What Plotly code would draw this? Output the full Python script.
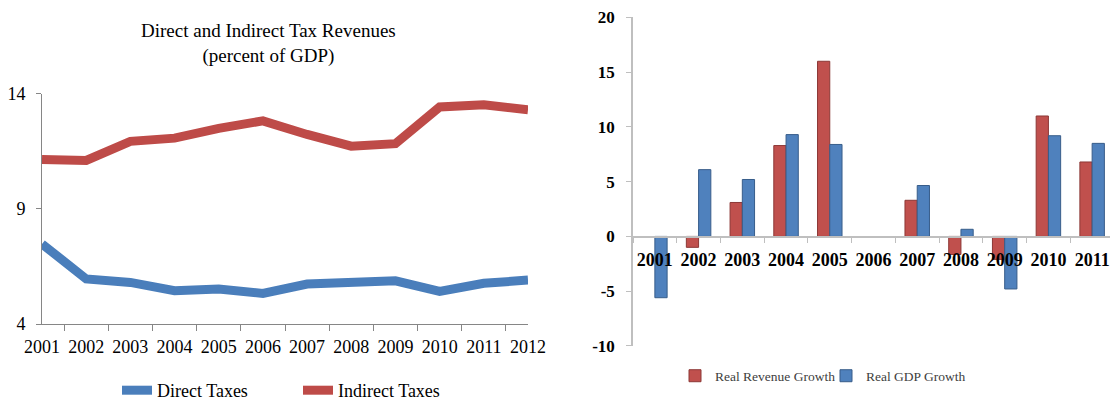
import plotly.graph_objects as go

years_left = ["2001", "2002", "2003", "2004", "2005", "2006", "2007", "2008", "2009", "2010", "2011", "2012"]
direct_taxes = [7.48, 5.96, 5.81, 5.45, 5.52, 5.33, 5.74, 5.81, 5.88, 5.42, 5.77, 5.91]
indirect_taxes = [11.14, 11.10, 11.93, 12.07, 12.49, 12.82, 12.23, 11.72, 11.83, 13.42, 13.52, 13.30]
left_ticks = [4, 9, 14]

years_right = ["2001", "2002", "2003", "2004", "2005", "2006", "2007", "2008", "2009", "2010", "2011"]
real_revenue_growth = [None, -1.0, 3.1, 8.3, 16.0, None, 3.3, -1.65, -2.1, 11.0, 6.8]
real_gdp_growth = [-5.6, 6.1, 5.2, 9.3, 8.4, None, 4.65, 0.65, -4.8, 9.2, 8.5]
right_tick_vals = [-10, -5, 0, 5, 10, 15, 20]
right_tick_text = ["-10", "-5", "0", "5", "10", "15", "20"]

OFF = 8
W, H = 1118 - OFF, 401
YS = 409 / 401
SERIF = "Liberation Serif, Times New Roman, serif"

def px_x(v):
    return (v - OFF) / W

def px_y(v):
    return 1 - (v * YS - OFF) / H

fig = go.Figure()

fig.add_trace(go.Scatter(
    x=years_left, y=direct_taxes, name="Direct Taxes", mode="lines",
    line=dict(color="#4a7ebb", width=9), xaxis="x", yaxis="y", legend="legend"))
fig.add_trace(go.Scatter(
    x=years_left, y=indirect_taxes, name="Indirect Taxes", mode="lines",
    line=dict(color="#be4b48", width=9), xaxis="x", yaxis="y", legend="legend"))

fig.add_trace(go.Bar(
    x=years_right, y=real_revenue_growth, name="Real Revenue Growth",
    marker=dict(color="#c0504d", line=dict(color="#8c3836", width=1)),
    xaxis="x2", yaxis="y2", legend="legend2"))
fig.add_trace(go.Bar(
    x=years_right, y=real_gdp_growth, name="Real GDP Growth",
    marker=dict(color="#4f81bd", line=dict(color="#385d8a", width=1)),
    xaxis="x2", yaxis="y2", legend="legend2"))

left_dom_x = [px_x(42), px_x(528)]
left_dom_y = [px_y(323.3), px_y(93.3)]
right_dom_x = [px_x(633), px_x(1114)]
right_dom_y = [px_y(345), px_y(17.3)]
zero_pos = px_y(236)

fig.update_layout(
    width=W, height=H,
    margin=dict(l=0, r=0, t=0, b=0),
    paper_bgcolor="white", plot_bgcolor="white",
    font=dict(family=SERIF, color="black"),
    barmode="group", bargap=0.44, bargroupgap=0,
    xaxis=dict(
        domain=left_dom_x, anchor="y", type="category", automargin=False,
        tickangle=0,
        showline=True, linecolor="#868686", linewidth=1,
        ticks="outside", tickson="boundaries", ticklen=6, tickcolor="#868686",
        tickfont=dict(size=18, color="black", family=SERIF),
        ticklabelstandoff=6,
        showgrid=False, zeroline=False, fixedrange=True),
    yaxis=dict(
        domain=left_dom_y, anchor="x", range=[4, 14], tickvals=left_ticks,
        automargin=False,
        showline=True, linecolor="#868686", linewidth=1,
        ticks="outside", ticklen=5, tickcolor="#868686",
        tickfont=dict(size=18, color="black", family=SERIF),
        ticklabelstandoff=7,
        showgrid=False, zeroline=False),
    xaxis2=dict(
        domain=right_dom_x, anchor="free", position=zero_pos, type="category",
        automargin=False, tickangle=0,
        showline=True, linecolor="#bfbfbf", linewidth=1.5,
        ticks="outside", tickson="boundaries", ticklen=6, tickcolor="#bfbfbf",
        tickfont=dict(size=18, color="black", family=SERIF, weight="bold"),
        ticklabelstandoff=7,
        showgrid=False, zeroline=False),
    yaxis2=dict(
        domain=right_dom_y, anchor="x2", range=[-10, 20],
        tickvals=right_tick_vals, ticktext=right_tick_text,
        automargin=False,
        showline=True, linecolor="#bfbfbf", linewidth=1.5,
        ticks="outside", ticklen=5, tickcolor="#bfbfbf",
        tickfont=dict(size=17, color="black", family=SERIF, weight="bold"),
        ticklabelstandoff=8,
        showgrid=False, zeroline=False),
    legend=dict(
        orientation="h", x=px_x(117), xanchor="left", y=px_y(390), yanchor="middle",
        font=dict(size=18, color="black", family=SERIF),
        entrywidth=136, entrywidthmode="pixels",
        bgcolor="rgba(0,0,0,0)", itemclick=False),
    legend2=dict(
        orientation="h", x=px_x(675), xanchor="left", y=px_y(375), yanchor="middle",
        font=dict(size=13.5, color="#404040", family=SERIF),
        entrywidth=106, entrywidthmode="pixels",
        bgcolor="rgba(0,0,0,0)", itemclick=False, itemwidth=30),
    annotations=[dict(
        text="Direct and Indirect Tax Revenues<br>(percent of GDP)",
        x=px_x(268), y=px_y(43), xref="paper", yref="paper",
        xanchor="center", yanchor="middle", showarrow=False,
        font=dict(size=19, color="black", family=SERIF))],
)

fig.write_html("out.html")
